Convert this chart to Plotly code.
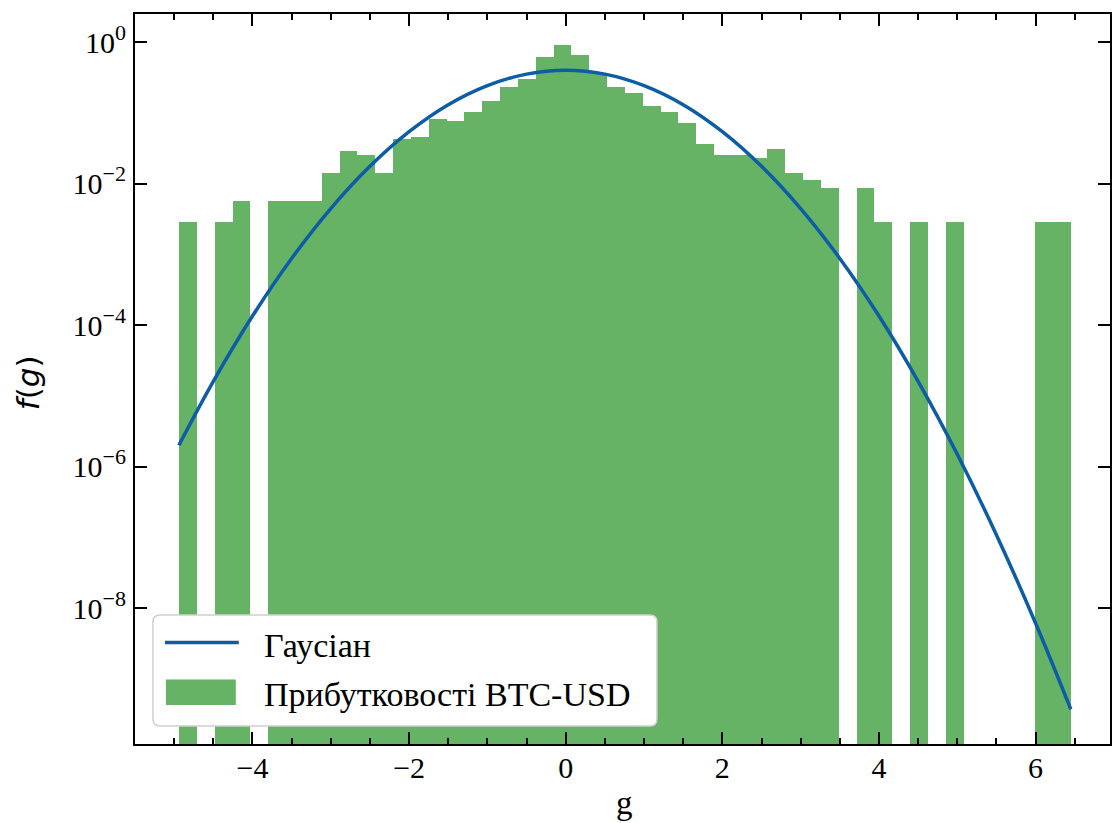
import numpy as np
import plotly.graph_objects as go

# Histogram of normalised BTC-USD returns (density, 50 equal bins)
bin_lo = -4.937
bin_hi = 6.447
n_bins = 50
density = [
    0.00284, None, 0.00284, 0.00568, None,
    0.00568, 0.00568, 0.00568, 0.0142, 0.0284,
    0.0256, 0.0142, 0.0426, 0.0454, 0.0824,
    0.0767, 0.104, 0.147, 0.233, 0.303,
    0.615, 0.895, 0.666, 0.360, 0.233,
    0.190, 0.125, 0.102, 0.0706, 0.0360,
    0.0256, 0.0256, 0.0232, 0.0312, 0.0142,
    0.01136, 0.00852, None, 0.00852, 0.00284,
    None, 0.00284, None, 0.00284, None,
    None, None, None, 0.00284, 0.00284,
]

# Gaussian reference curve, sampled over the histogram range
gauss_x = [-4.94, -4.5, -4.0, -3.5, -3.0, -2.5, -2.0, -1.5, -1.0, -0.5, 0.0,
           0.5, 1.0, 1.5, 2.0, 2.5, 3.0, 3.5, 4.0, 4.5, 5.0, 5.5, 6.0, 6.45]
gauss_y = [2.00e-6, 1.60e-5, 1.34e-4, 8.73e-4, 4.43e-3, 1.75e-2, 5.40e-2,
           0.130, 0.242, 0.352, 0.399, 0.352, 0.242, 0.130, 5.40e-2, 1.75e-2,
           4.43e-3, 8.73e-4, 1.34e-4, 1.60e-5, 1.49e-6, 1.08e-7, 6.08e-9,
           3.69e-10]

x_tick_vals = [-4, -2, 0, 2, 4, 6]
x_tick_text = ["\u22124", "\u22122", "0", "2", "4", "6"]
y_tick_vals = [1, 1e-2, 1e-4, 1e-6, 1e-8]
y_exponents = ["0", "\u22122", "\u22124", "\u22126", "\u22128"]

label_gauss = "Гаусіан"
label_hist = "Прибутковості BTC-USD"

edges = np.linspace(bin_lo, bin_hi, n_bins + 1)
centers = 0.5 * (edges[:-1] + edges[1:])
width = edges[1] - edges[0]

BLUE = "#0C5DA5"
GREEN = "rgba(0,128,0,0.6)"
SERIF = "Liberation Serif"
TICK_SIZE = 30

y_tick_text = [f"10<sup><span style='font-size:22px'>{e}</span></sup>"
               for e in y_exponents]

W, H = 1115, 823
L, R, T, B = 135, 3, 14, 79
PW, PH = W - L - R, H - T - B


def px(xp):
    return (xp - L) / PW


def py(yp):
    return (H - B - yp) / PH


fig = go.Figure()
fig.add_trace(go.Bar(
    x=centers, y=density, width=width, name=label_hist,
    marker=dict(color=GREEN, line=dict(width=0)), showlegend=False,
))
fig.add_trace(go.Scatter(
    x=gauss_x, y=gauss_y, mode="lines", name=label_gauss,
    line=dict(color=BLUE, width=3.5, shape="spline"), showlegend=False,
))

axis_common = dict(
    showline=True, linecolor="black", linewidth=2, mirror="ticks",
    ticks="inside", tickcolor="black", tickwidth=2, ticklen=12,
    showgrid=False, zeroline=False,
    tickfont=dict(family=SERIF, size=TICK_SIZE, color="black"),
)

fig.update_xaxes(
    range=[-5.50, 6.95], tickmode="array", tickvals=x_tick_vals,
    ticktext=x_tick_text, ticklabelstandoff=-4,
    minor=dict(tickmode="linear", tick0=0, dtick=0.5, ticks="inside",
               ticklen=6, tickwidth=2, tickcolor="black"),
    **axis_common,
)
fig.update_yaxes(
    type="log", range=[-9.922, 0.396], tickmode="array",
    tickvals=y_tick_vals, ticktext=y_tick_text, ticklabelstandoff=1,
    **axis_common,
)

# legend frame with rounded corners
x0, x1, y0, y1 = px(153), px(658), py(726), py(615)
rx, ry = 7 / PW, 7 / PH
frame = (f"M{x0+rx},{y0} L{x1-rx},{y0} Q{x1},{y0} {x1},{y0+ry} "
         f"L{x1},{y1-ry} Q{x1},{y1} {x1-rx},{y1} L{x0+rx},{y1} "
         f"Q{x0},{y1} {x0},{y1-ry} L{x0},{y0+ry} Q{x0},{y0} {x0+rx},{y0} Z")
shapes = [
    dict(type="path", path=frame, xref="paper", yref="paper",
         fillcolor="white", line=dict(color="#d0d0d0", width=1.5),
         layer="above"),
    dict(type="line", xref="paper", yref="paper", x0=px(165), x1=px(239),
         y0=py(642.5), y1=py(642.5), line=dict(color=BLUE, width=3.5), layer="above"),
    dict(type="rect", xref="paper", yref="paper", x0=px(166), x1=px(236),
         y0=py(705), y1=py(679.5), fillcolor=GREEN, line=dict(width=0), layer="above"),
]

legend_font = dict(family=SERIF, size=34, color="black")
annotations = [
    dict(text=label_gauss, xref="paper", yref="paper", x=px(262), y=py(645),
         xanchor="left", yanchor="middle", showarrow=False, font=legend_font),
    dict(text=label_hist, xref="paper", yref="paper", x=px(262), y=py(694),
         xanchor="left", yanchor="middle", showarrow=False, font=legend_font),
    dict(text="<i>f</i>(<i>g</i>)", xref="paper", yref="paper", x=px(28), y=py(383),
         xanchor="center", yanchor="middle", textangle=-90, showarrow=False,
         font=dict(family="DejaVu Sans", size=31, color="black")),
    dict(text="g", xref="paper", yref="paper", x=px(626), y=py(803),
         xanchor="center", yanchor="middle", showarrow=False,
         font=dict(family=SERIF, size=33, color="black")),
]

fig.update_layout(
    width=W, height=H,
    margin=dict(l=L, r=R, t=T, b=B, pad=0),
    paper_bgcolor="white", plot_bgcolor="white",
    bargap=0, showlegend=False,
    shapes=shapes, annotations=annotations,
)

fig.write_html("out.html")
